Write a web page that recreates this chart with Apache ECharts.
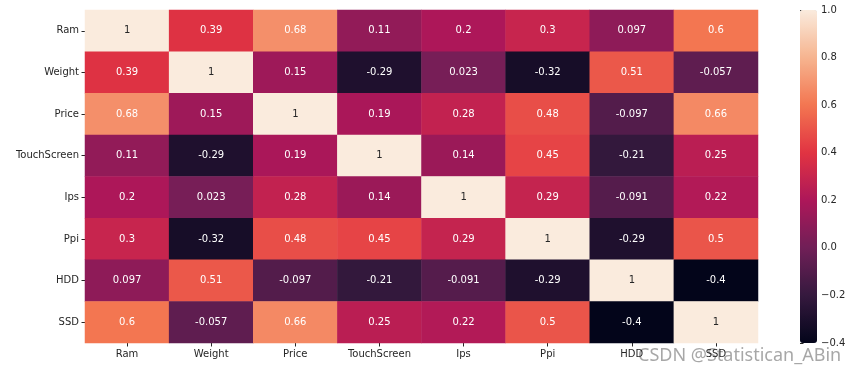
<!DOCTYPE html>
<html>
<head>
<meta charset="utf-8">
<script src="https://cdn.jsdelivr.net/npm/echarts@6/dist/echarts.min.js"></script>
<style>
  html, body { margin: 0; padding: 0; background: #fff; }
  #chart { width: 865px; height: 376px; }
</style>
</head>
<body>
<div id="chart"></div>
<script>
const features = ['Ram', 'Weight', 'Price', 'TouchScreen', 'Ips', 'Ppi', 'HDD', 'SSD']

// correlation matrix, row by row
const rowRam = [1, 0.39, 0.68, 0.11, 0.2, 0.3, 0.097, 0.6]
const rowWeight = [0.39, 1, 0.15, -0.29, 0.023, -0.32, 0.51, -0.057]
const rowPrice = [0.68, 0.15, 1, 0.19, 0.28, 0.48, -0.097, 0.66]
const rowTouch = [0.11, -0.29, 0.19, 1, 0.14, 0.45, -0.21, 0.25]
const rowIps = [0.2, 0.023, 0.28, 0.14, 1, 0.29, -0.091, 0.22]
const rowPpi = [0.3, -0.32, 0.48, 0.45, 0.29, 1, -0.29, 0.5]
const rowHDD = [0.097, 0.51, -0.097, -0.21, -0.091, -0.29, 1, -0.4]
const rowSSD = [0.6, -0.057, 0.66, 0.25, 0.22, 0.5, -0.4, 1]
const matrix = [rowRam, rowWeight, rowPrice, rowTouch, rowIps, rowPpi, rowHDD, rowSSD]

const colorMin = -0.4
const colorMax = 1

// rocket colormap
const rocket = ['#03051A', '#35193E', '#701F57', '#AD1759', '#E13342', '#F37651', '#F6B48F', '#FAEBDD']

const cells = []
matrix.forEach((row, r) => {
  row.forEach((v, c) => {
    cells.push({
      value: [c, r, v],
      label: { color: v > 0.85 ? '#262626' : '#ffffff' }
    })
  })
})

const chart = echarts.init(document.getElementById('chart'))
const font = 'DejaVu Sans'

chart.setOption({
  animation: false,
  textStyle: { fontFamily: font },
  grid: [
    { left: 85, top: 10, width: 673, height: 333 },
    { left: 800, top: 10, width: 17, height: 333 }
  ],
  xAxis: [
    {
      type: 'category',
      gridIndex: 0,
      data: features,
      axisLine: { show: false },
      axisTick: { show: true, alignWithLabel: true, length: 3.5, lineStyle: { color: '#262626' } },
      axisLabel: { color: '#262626', fontSize: 10, margin: 6 },
      splitLine: { show: false }
    },
    { type: 'value', gridIndex: 1, min: 0, max: 1, show: false }
  ],
  yAxis: [
    {
      type: 'category',
      gridIndex: 0,
      inverse: true,
      data: features,
      axisLine: { show: false },
      axisTick: { show: true, alignWithLabel: true, length: 3.5, lineStyle: { color: '#262626' } },
      axisLabel: { color: '#262626', fontSize: 10, margin: 6 },
      splitLine: { show: false }
    },
    {
      type: 'value',
      gridIndex: 1,
      position: 'right',
      min: colorMin,
      max: colorMax,
      interval: 0.2,
      axisLine: { show: false },
      axisTick: { show: true, length: 3.5, lineStyle: { color: '#262626' } },
      axisLabel: {
        color: '#262626',
        fontSize: 10,
        margin: 4,
        formatter: v => v.toFixed(1).replace('-', '\u2212')
      },
      splitLine: { show: false }
    }
  ],
  visualMap: {
    type: 'continuous',
    min: colorMin,
    max: colorMax,
    dimension: 2,
    seriesIndex: 0,
    left: 800,
    top: 10,
    padding: 0,
    itemWidth: 17,
    itemHeight: 333,
    calculable: false,
    hoverLink: false,
    text: null,
    showLabel: false,
    handleSize: 0,
    indicatorSize: 0,
    inRange: { color: rocket }
  },
  series: [
    {
      type: 'heatmap',
      xAxisIndex: 0,
      yAxisIndex: 0,
      data: cells,
      label: {
        show: true,
        fontSize: 10,
        fontFamily: font,
        formatter: p => String(p.value[2])
      },
      itemStyle: { borderWidth: 0 },
      emphasis: { disabled: true }
    }
  ],
  graphic: [
    {
      type: 'text',
      left: 638,
      top: 347,
      style: {
        text: 'CSDN @Statistican_ABin',
        fontSize: 18,
        fontFamily: 'Noto Sans',
        fill: 'rgba(130,130,130,0.7)'
      }
    }
  ]
})
</script>
</body>
</html>
